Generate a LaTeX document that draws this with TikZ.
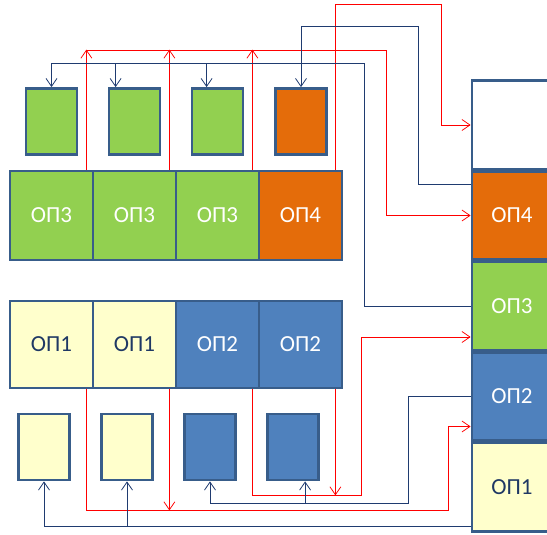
\documentclass[tikz,border=0pt]{standalone}
\usepackage{fontspec}
\setmainfont{Carlito}
\usetikzlibrary{arrows.meta,positioning,calc}
\definecolor{OPGreen}{HTML}{92D050}
\definecolor{OPOrange}{HTML}{E46C0A}
\definecolor{OPBlue}{HTML}{4F81BD}
\definecolor{OPCream}{HTML}{FFFFCC}
\definecolor{OPEdge}{HTML}{385D8A}
\definecolor{OPNavy}{HTML}{1F3B70}
\definecolor{OPInk}{HTML}{1F3864}
\definecolor{OPRed}{HTML}{FF0000}
\tikzset{
  cell/.style={draw=OPEdge,line width=2.8pt,minimum width=83pt,minimum height=87pt,
               inner sep=0pt,text=white,font=\fontsize{23}{27}\selectfont},
  cellgreen/.style={cell,fill=OPGreen},
  cellorange/.style={cell,fill=OPOrange},
  cellblue/.style={cell,fill=OPBlue},
  cellcream/.style={cell,fill=OPCream,text=OPInk},
  buf/.style={draw=OPEdge,line width=2.8pt,minimum width=51pt,minimum height=66pt,inner sep=0pt},
  bufgreen/.style={buf,fill=OPGreen},
  buforange/.style={buf,fill=OPOrange},
  bufblue/.style={buf,fill=OPBlue},
  bufcream/.style={buf,fill=OPCream},
  wire/.style={-{Straight Barb[length=8pt,width=11pt]},line width=0.75pt},
  wirered/.style={wire,OPRed},
  wirenavy/.style={wire,OPNavy,line width=0.8pt},
}

\begin{document}
\begin{tikzpicture}[x=1pt,y=-1pt,
      stack/.style={cell,minimum width=80pt,minimum height=88.5pt}]
    \useasboundingbox (0,0) rectangle (547,535);

    % ---------------------------------------------------------------- upper row
    \node[cellgreen,minimum height=89pt]  (t1) at (51.5,215.5)  {ОП3};
    \node[cellgreen,minimum height=89pt]  (t2) at (134.5,215.5) {ОП3};
    \node[cellgreen,minimum height=89pt]  (t3) at (217.5,215.5) {ОП3};
    \node[cellorange,minimum height=89pt] (t4) at (300.5,215.5) {ОП4};

    \node[bufgreen]  (s1) at (51.5,121.5)  {};
    \node[bufgreen]  (s2) at (134.5,121.5) {};
    \node[bufgreen]  (s3) at (217.5,121.5) {};
    \node[buforange] (s4) at (301,121.5)   {};

    % ---------------------------------------------------------------- lower row
    \node[cellcream] (b1) at (51.5,344.5)  {ОП1};
    \node[cellcream] (b2) at (134.5,344.5) {ОП1};
    \node[cellblue]  (b3) at (217.5,344.5) {ОП2};
    \node[cellblue]  (b4) at (300.5,344.5) {ОП2};

    \node[bufcream] (v1) at (44,447)  {};
    \node[bufcream] (v2) at (127,447) {};
    \node[bufblue]  (v3) at (210,447) {};
    \node[bufblue]  (v4) at (293,447) {};

    % ------------------------------------------------------------- right stack
    \begin{scope}
      \clip (0,0) rectangle (547,535);
      \node[stack,fill=white]       (rtop) at (512,125)   {};
      \node[stack,fill=OPOrange]    (ro4)  at (512,215.5) {ОП4};
      \node[stack,fill=OPGreen]     (ro3)  at (512,306)   {ОП3};
      \node[stack,fill=OPBlue]      (ro2)  at (512,396.5) {ОП2};
      \node[stack,fill=OPCream,text=OPInk] (ro1) at (512,487) {ОП1};
    \end{scope}

    % ------------------------------------------------------------ upper wiring
    \foreach \c in {t1,t2,t3}
      \draw[wirered] ($(\c.north east)+(-8,0)$) -- ++(0,-120);
    \draw[wirered] (86,50) -- (386,50) |- (ro4.west);
    \draw[wirered] ($(t4.north east)+(-8,0)$) |- (441,4) |- (rtop.west);

    \draw[wirenavy] (ro3.west) -| (364,63) -| (s1.north);
    \draw[wirenavy] ($(s2.north west)+(8,-24)$) -- ($(s2.north west)+(8,0)$);
    \draw[wirenavy] ($(s3.north west)+(16,-24)$) -- ($(s3.north west)+(16,0)$);
    \draw[wirenavy] ($(ro4.west)+(0,-31)$) -| (418,26) -| (s4.north);

    % ------------------------------------------------------------ lower wiring
    \draw[wirered] ($(b1.south east)+(-8,0)$) |- (448,510) |- ($(ro2.west)+(0,30)$);
    \draw[wirered] ($(b2.south east)+(-8,0)$) -- ++(0,121);
    \draw[wirered] ($(b3.south east)+(-8,0)$) |- (361,495) |- ($(ro3.west)+(0,31)$);
    \draw[wirered] ($(b4.south east)+(-8,0)$) -- ++(0,106);

    \draw[wirenavy] (ro2.west) -| (408,503) -| (v3.south);
    \draw[wirenavy] ($(v4.south west)+(39,22)$) -- ($(v4.south west)+(39,0)$);
    \draw[wirenavy] ($(ro1.west)+(0,39)$) -| (v1.south);
    \draw[wirenavy] ($(v2.south)+(0,45)$) -- (v2.south);
  \end{tikzpicture}
\end{document}
